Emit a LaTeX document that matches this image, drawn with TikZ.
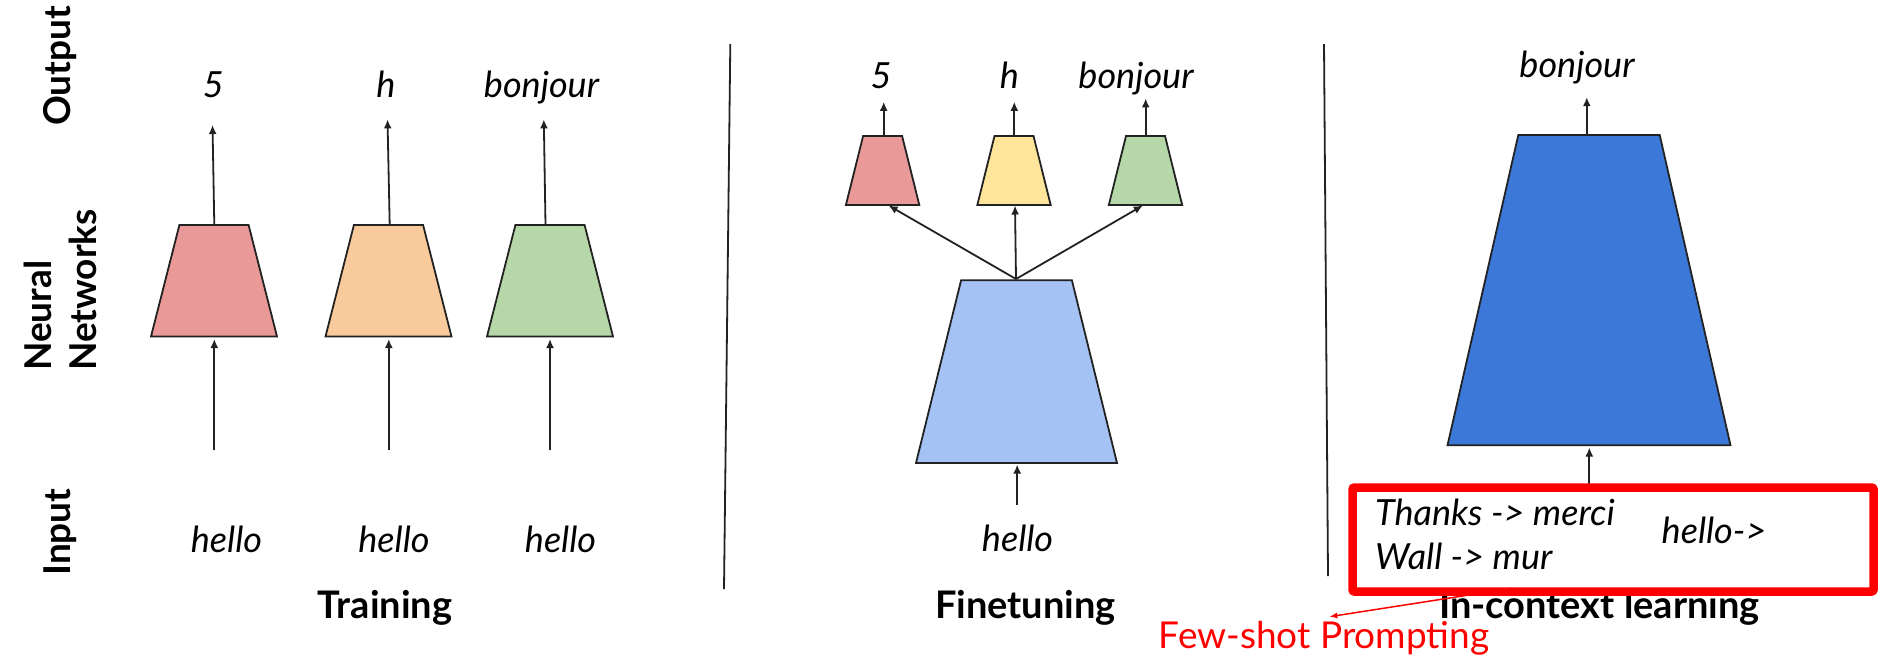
\documentclass[tikz,border=0pt]{standalone}
\usepackage{fontspec}
\setmainfont{Lato}
\usetikzlibrary{arrows.meta}
\definecolor{nnred}{HTML}{EA9999}
\definecolor{nnorange}{HTML}{F9CB9C}
\definecolor{nngreen}{HTML}{B6D7A8}
\definecolor{nnyellow}{HTML}{FFE599}
\definecolor{nnlblue}{HTML}{A4C2F4}
\definecolor{nndblue}{HTML}{3C78D8}
\definecolor{inkc}{HTML}{222222}
\newcommand\mytrap[7]{%
  \path[trapbox, fill=#7] (#2-#5,#3) -- (#2+#5,#3) -- (#2+#6,#4) -- (#2-#6,#4) -- cycle;
  \coordinate (#1-t) at (#2,#3);
  \coordinate (#1-b) at (#2,#4);}
\begin{document}
\begin{tikzpicture}[x=1pt,y=-1pt,
  trapbox/.style={draw=inkc, line width=1.8pt, line join=miter},
  conn/.style={draw=inkc, line width=1.8pt, -{Latex[length=9pt,width=8pt]}},
  divider/.style={draw=inkc, line width=1.8pt},
  lab/.style={font=\fontsize{36}{42}\selectfont\itshape, anchor=base, inner sep=0pt},
  labl/.style={font=\fontsize{36}{42}\selectfont\itshape, anchor=base west, inner sep=0pt},
  ttl/.style={font=\fontsize{38}{45}\selectfont\bfseries, anchor=base, inner sep=0pt},
  side/.style={font=\fontsize{37}{45}\selectfont\bfseries, rotate=90, align=left, inner sep=0pt, anchor=center}]
\useasboundingbox (0,0) rectangle (1878,657);

% side labels
\node[side] (sOut) at (60.5,66) {Output};
\node[side] (sNN) at (60.5,290) {Neural\\Networks};
\node[side] (sIn) at (60.5,532) {Input};

% ---------- Training ----------
\mytrap{a1}{214}{225}{336.5}{34.6}{63}{nnred}
\mytrap{a2}{388.5}{225}{336.5}{34.6}{63}{nnorange}
\mytrap{a3}{550}{225}{336.5}{34.6}{63}{nngreen}

\node[lab] (o1) at (213.4,97) {5};
\node[lab] (o2) at (386,97) {h};
\node[lab] (o3) at (541.5,97) {bonjour};
\node[lab] (i1) at (226.5,552) {hello};
\node[lab] (i2) at (394,552) {hello};
\node[lab] (i3) at (560.5,552) {hello};
\node[ttl] (t1) at (385,618) {Training};

\coordinate (a1-up) at (212.5,125);
\coordinate (a2-up) at (387.5,119.4);
\coordinate (a3-up) at (543.8,119.4);
\coordinate (a1-s) at (214.3,225);
\coordinate (a2-s) at (389.7,225);
\coordinate (a3-s) at (545.5,225);
\draw[conn] (a1-s) -- (a1-up);
\draw[conn] (a2-s) -- (a2-up);
\draw[conn] (a3-s) -- (a3-up);

\coordinate (a1-in) at (214.3,449.5);
\coordinate (a2-in) at (388.8,449.5);
\coordinate (a3-in) at (550,449.5);
\coordinate (a1-bt) at (214.3,339);
\coordinate (a2-bt) at (388.8,339);
\coordinate (a3-bt) at (550,339);
\draw[conn] (a1-in) -- (a1-bt);
\draw[conn] (a2-in) -- (a2-bt);
\draw[conn] (a3-in) -- (a3-bt);

% dividers
\coordinate (d1a) at (730.3,44);
\coordinate (d1b) at (724,589);
\coordinate (d2a) at (1324,44);
\coordinate (d2b) at (1328,576);
\draw[divider] (d1a) -- (d1b);
\draw[divider] (d2a) -- (d2b);

% ---------- Finetuning ----------
\mytrap{b1}{882.6}{136}{205}{19.5}{36.7}{nnred}
\mytrap{b2}{1014}{136}{205}{19.5}{36.7}{nnyellow}
\mytrap{b3}{1145.5}{136}{205}{19.5}{36.7}{nngreen}
\mytrap{bb}{1016.5}{280.3}{463}{55.4}{100.5}{nnlblue}

\node[lab] (p1) at (881,88) {5};
\node[lab] (p2) at (1009.5,88) {h};
\node[lab] (p3) at (1136,88) {bonjour};
\node[lab] (pi) at (1017.5,551) {hello};
\node[ttl] (t2) at (1025.5,618) {Finetuning};

\coordinate (b1-up) at (883.7,101.8);
\coordinate (b2-up) at (1014.3,101.8);
\coordinate (b3-up) at (1145.7,98.4);
\coordinate (b1-s) at (883.7,136);
\coordinate (b2-s) at (1014.3,136);
\coordinate (b3-s) at (1145.7,136);
\draw[conn] (b1-s) -- (b1-up);
\draw[conn] (b2-s) -- (b2-up);
\draw[conn] (b3-s) -- (b3-up);

\coordinate (bb-s) at (1016,279);
\coordinate (b1-in) at (888.6,205.5);
\coordinate (b2-in) at (1015,205.5);
\coordinate (b3-in) at (1142.8,205.5);
\draw[conn] (bb-s) -- (b1-in);
\draw[conn] (bb-s) -- (b2-in);
\draw[conn] (bb-s) -- (b3-in);

\coordinate (bb-in) at (1017.2,504.8);
\coordinate (bb-bt) at (1017.2,464.5);
\draw[conn] (bb-in) -- (bb-bt);

% ---------- In-context learning ----------
\mytrap{c}{1589}{135}{445.3}{70.7}{141.5}{nndblue}
\node[lab] (q1) at (1577,77.5) {bonjour};
\coordinate (c-s) at (1586.8,135);
\coordinate (c-up) at (1586.8,97.2);
\draw[conn] (c-s) -- (c-up);

\node[ttl] (t3) at (1599.5,618) {In-context learning};

\node[labl] (ex1) at (1375,525.8) {Thanks -> merci};
\node[labl] (ex2) at (1375,569.8) {Wall -> mur};
\node[labl] (qry) at (1661.5,543.8) {hello->};

\coordinate (c-in) at (1589.3,486);
\coordinate (c-bt) at (1589.3,447.5);
\draw[conn] (c-in) -- (c-bt);

\node[draw=red, line width=8.5pt, rounded corners=2pt, minimum width=521pt, minimum height=104pt, inner sep=0pt] (box) at (1613,539.5) {};

\node[font=\fontsize{37}{44}\selectfont, text=red, anchor=base, inner sep=0pt] (fs) at (1324,648) {Few-shot Prompting};
\coordinate (fs-s) at (1512,588.3);
\coordinate (fs-t) at (1329.3,616.7);
\draw[red, line width=1.5pt, -{Latex[length=8pt,width=6pt]}] (fs-s) -- (fs-t);
\end{tikzpicture}
\end{document}
